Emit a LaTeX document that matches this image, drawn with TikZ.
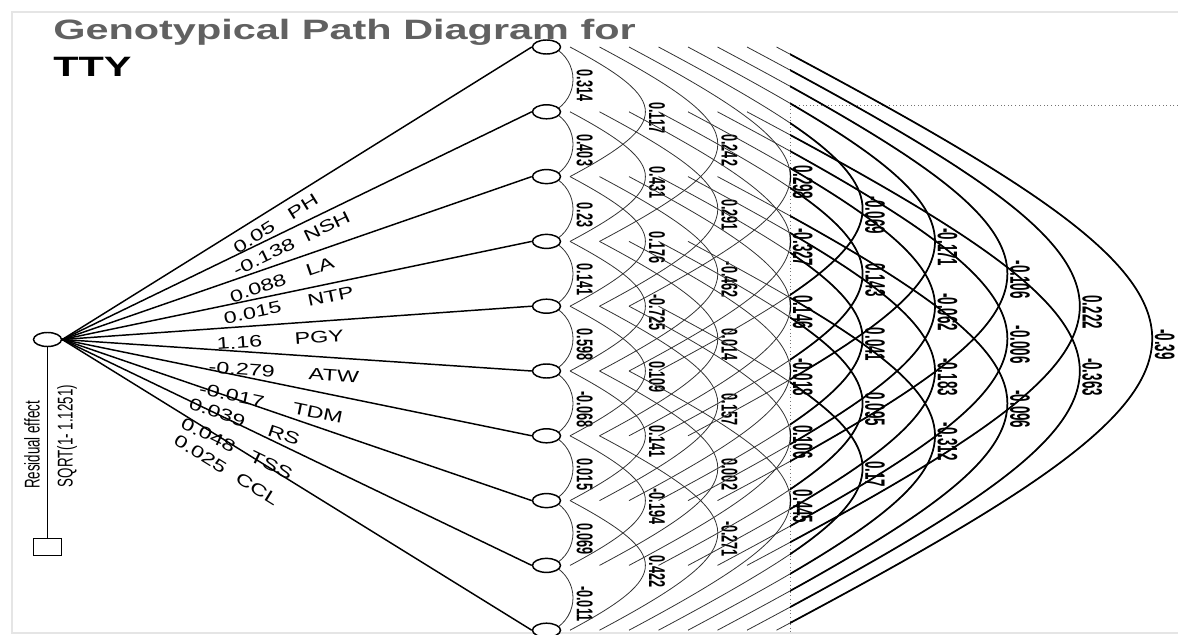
\documentclass[tikz,border=0pt]{standalone}
\usepackage{fontspec}
\setmainfont{Liberation Sans}
\newfontfamily\titlefont[FakeStretch=1.48]{Liberation Sans}
\newfontfamily\pathfont[FakeStretch=1.4]{Liberation Sans}
\usetikzlibrary{shapes.geometric}
\begin{document}
\begin{tikzpicture}[x=0.75pt,y=-0.75pt,
  circ/.style={ellipse, draw, line width=1.1pt, fill=white, minimum width=21pt, minimum height=10.5pt, inner sep=0pt},
  resbox/.style={rectangle, draw, line width=1.1pt, fill=white, minimum width=21pt, minimum height=13pt, inner sep=0pt},
  pathline/.style={line width=1.1pt},
  arcthin/.style={line width=0.6pt, black!80},
  arcthick/.style={line width=1.3pt},
  coef/.style={sloped, inner sep=0pt, font=\pathfont\fontsize{12.5}{14}\selectfont},
  arclab/.style={rotate=-90, anchor=south, inner sep=1pt, font=\bfseries\fontsize{9.5}{10}\selectfont},
  reslab/.style={rotate=90, inner sep=0pt, font=\fontsize{10}{11}\selectfont}]
\useasboundingbox (0,0) rectangle (1178,635);
% faint scan frame
\draw[black!10, line width=0.8pt] (1178,12) -- (12,12) -- (12,633) -- (1178,633);
% title
\node[anchor=base west, inner sep=0pt, text=black!62, font=\titlefont\bfseries\fontsize{21}{24}\selectfont] (title) at (53,40) {Genotypical Path Diagram for};
\node[anchor=base west, inner sep=0pt, font=\titlefont\bfseries\fontsize{21}{24}\selectfont] (tty) at (53,77) {TTY};
% dotted frame
\draw[dotted, black!55, line width=0.7pt] (1178,105) -- (790,105) -- (790,635);
% correlation arcs
\foreach \i/\j/\lab in {1/2/0.314, 2/3/0.403, 3/4/0.23, 4/5/0.141, 5/6/0.598, 6/7/-0.068, 7/8/0.015, 8/9/0.069, 9/10/-0.011,
  1/3/0.117, 2/4/0.431, 3/5/0.176, 4/6/-0.725, 5/7/0.109, 6/8/0.141, 7/9/-0.194, 8/10/0.422,
  1/4/0.242, 2/5/0.291, 3/6/-0.462, 4/7/0.014, 5/8/0.157, 6/9/0.002, 7/10/-0.271,
  1/5/0.298, 2/6/-0.327, 3/7/0.146, 4/8/-0.018, 5/9/0.106, 6/10/0.445,
  1/6/-0.069, 2/7/0.143, 3/8/0.041, 4/9/0.095, 5/10/0.17,
  1/7/-0.171, 2/8/-0.062, 3/9/-0.183, 4/10/-0.312,
  1/8/-0.106, 2/9/-0.006, 3/10/-0.096,
  1/9/0.222, 2/10/-0.363,
  1/10/-0.39}{
  \pgfmathtruncatemacro\d{\j-\i}
  \pgfmathsetmacro\yi{47+64.8*(\i-1)}
  \pgfmathsetmacro\yj{47+64.8*(\j-1)}
  \pgfmathsetmacro\xo{\d==1 ? 553 : 570+29.5*(\d-2)}
  \pgfmathsetmacro\xa{573+72.4*(\d-1)}
  \pgfmathsetmacro\aa{(\xa-\xo)/0.75}
  \pgfmathsetmacro\kk{\aa*0.532}
  \pgfmathsetmacro\ym{(\yi+\yj)/2+6}
  \coordinate (s\i-\j) at (\xo,\yi);
  \coordinate (e\i-\j) at (\xo,\yj);
  \draw[arcthin] (s\i-\j) .. controls +(\aa,\kk) and +(\aa,-\kk) .. (e\i-\j);
  \ifnum\d>3
    \begin{scope}
      \clip (790,0) rectangle (1178,635);
      \draw[arcthick] (s\i-\j) .. controls +(\aa,\kk) and +(\aa,-\kk) .. (e\i-\j);
    \end{scope}
    \node[arclab, font=\bfseries\fontsize{10}{11}\selectfont] (l\i-\j) at (\xa+1,\ym) {\scalebox{1}[2.1]{\lab}};
  \else
    \node[arclab] (l\i-\j) at (\xa+2,\ym) {\scalebox{1}[1.8]{\lab}};
  \fi
}
% variable nodes
\foreach \k in {1,...,10}{
  \node[circ] (v\k) at (546.5,{47+64.8*(\k-1)}) {};
}
\node[circ] (src) at (47.5,339.5) {};
\node[resbox] (res) at (47.5,547) {};
\draw[pathline] (src.south) -- (res.north);
\node[reslab] (restext) at (32,445) {\scalebox{1}[1.6]{Residual effect}};
\node[reslab] (sqrt) at (67,436) {\scalebox{1}[1.6]{SQRT(1- 1.1251)}};
% path coefficients
\foreach \k/\v/\nm/\pa/\pb/\g in {
  1/0.05/PH/0.392/0.496/8,
  2/-0.138/NSH/0.417/0.551/7,
  3/0.088/LA/0.406/0.538/9,
  4/0.015/NTP/0.400/0.566/6,
  5/1.16/PGY/0.375/0.545/9,
  6/-0.279/ATW/0.385/0.581/11,
  7/-0.017/TDM/0.370/0.553/14,
  8/0.039/RS/0.343/0.485/12,
  9/0.048/TSS/0.332/0.466/16,
  10/0.025/CCL/0.322/0.443/18}{
  \pgfmathsetmacro\gg{\g*0.75}
  \draw[pathline] (src.east) -- (v\k.west)
    node[coef, pos=\pa, below=\gg pt] (pv\k) {\v}
    node[coef, pos=\pb, below=\gg pt] (pn\k) {\nm};
}
\end{tikzpicture}
\end{document}
